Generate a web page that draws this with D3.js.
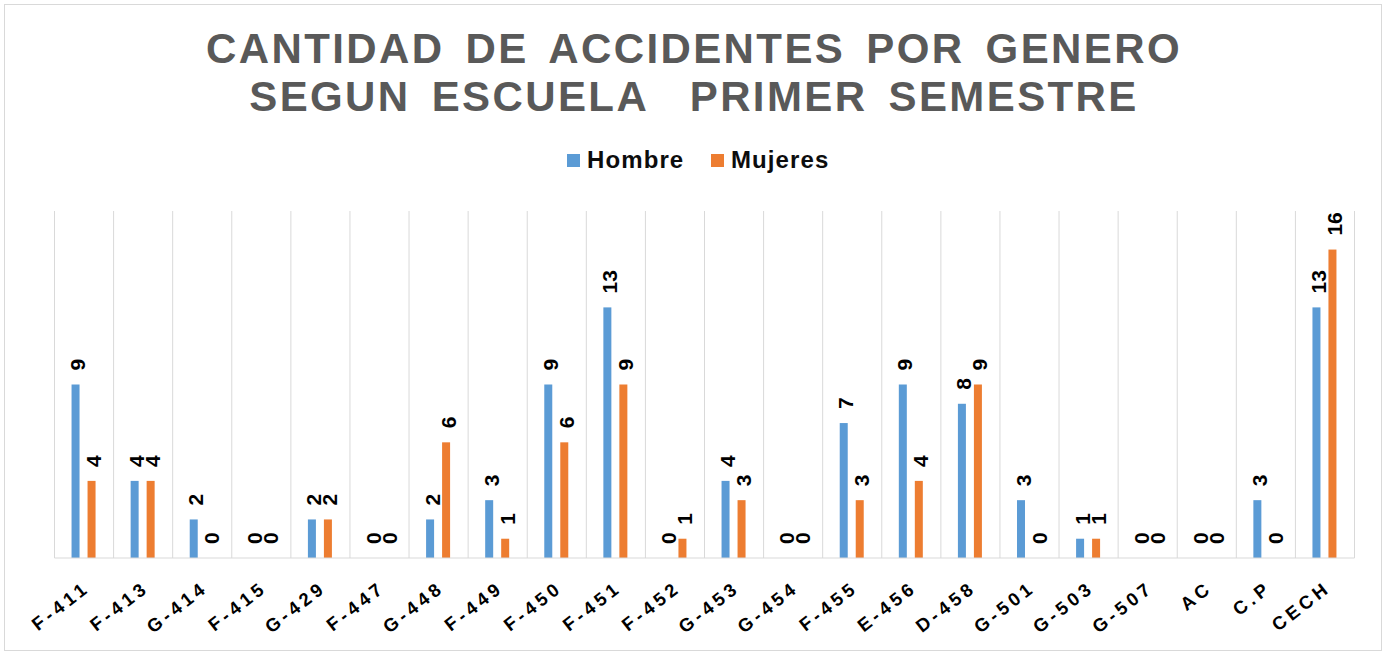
<!DOCTYPE html>
<html>
<head>
<meta charset="utf-8">
<script src="https://cdn.jsdelivr.net/npm/d3@7"></script>
<style>
  body { margin: 0; background: #fff; }
  text { font-family: "Liberation Sans", Arial, sans-serif; font-weight: bold; }
</style>
</head>
<body>
<div id="chart"></div>
<script>
// Data
var categories = ["F-411", "F-413", "G-414", "F-415", "G-429", "F-447", "G-448", "F-449", "F-450", "F-451", "F-452",
                  "G-453", "G-454", "F-455", "E-456", "D-458", "G-501", "G-503", "G-507", "AC", "C.P", "CECH"];
var hombre  = [9, 4, 2, 0, 2, 0, 2, 3, 9, 13, 0, 4, 0, 7, 9, 8, 3, 1, 0, 0, 3, 13];
var mujeres = [4, 4, 0, 0, 2, 0, 6, 1, 6, 9, 1, 3, 0, 3, 4, 9, 0, 1, 0, 0, 0, 16];
var seriesNames = ["Hombre", "Mujeres"];
var seriesColors = ["#5b9bd5", "#ed7d31"];
var titleLines = ["CANTIDAD DE ACCIDENTES POR GENERO", "SEGUN ESCUELA  PRIMER SEMESTRE"];

var svgWidth = 1386;
var svgHeight = 654;

var svg = d3.select("#chart")
  .append("svg")
  .attr("width", svgWidth)
  .attr("height", svgHeight);

// outer frame
svg.append("rect")
  .attr("x", 4.5).attr("y", 4.5)
  .attr("width", 1377).attr("height", 646)
  .attr("fill", "#fff")
  .attr("stroke", "#d9d9d9");

// title
svg.selectAll(".title")
  .data(titleLines)
  .enter()
  .append("text")
  .attr("class", "title")
  .attr("x", 694)
  .attr("y", (d, i) => i == 0 ? 63 : 110.5)
  .attr("text-anchor", "middle")
  .style("font-size", "42px")
  .style("letter-spacing", "2.4px")
  .style("word-spacing", "7px")
  .style("white-space", "pre")
  .attr("fill", "#595959")
  .text(d => d);

// legend
var legendX = [567, 711];
var legend = svg.selectAll(".legend")
  .data(seriesNames)
  .enter()
  .append("g")
  .attr("class", "legend")
  .attr("transform", (d, i) => `translate(${legendX[i]}, 154)`);

legend.append("rect")
  .attr("width", 13).attr("height", 13)
  .attr("fill", (d, i) => seriesColors[i]);

legend.append("text")
  .attr("x", 20)
  .attr("y", 14)
  .style("font-size", "24px")
  .style("letter-spacing", "1.1px")
  .attr("fill", "#0d0d0d")
  .text(d => d);

// scales
var x0 = d3.scaleBand().domain(categories).range([54.5, 1354.5]).padding(0);
var bw = x0.bandwidth();
var x1 = d3.scaleBand().domain(seriesNames).range([bw / 2 - 12.5, bw / 2 + 11.5]).paddingInner(0.5);
var y = d3.scaleLinear().domain([0, 18]).range([558, 211]);

var rows = categories.map((c, i) => ({ cat: c, values: [hombre[i], mujeres[i]] }));

// vertical gridlines between categories
var gridX = categories.map(c => x0(c)).concat([x0.range()[1]]);
svg.selectAll(".grid")
  .data(gridX)
  .enter()
  .append("line")
  .attr("x1", d => d).attr("x2", d => d)
  .attr("y1", y(18)).attr("y2", y(0))
  .attr("stroke", "#d9d9d9");

// bars
var groups = svg.selectAll(".cat")
  .data(rows)
  .enter()
  .append("g")
  .attr("transform", d => `translate(${x0(d.cat)}, 0)`);

groups.selectAll("rect")
  .data(d => d.values.map((v, j) => ({ name: seriesNames[j], value: v, j: j })))
  .enter()
  .append("rect")
  .attr("x", d => x1(d.name))
  .attr("width", x1.bandwidth())
  .attr("y", d => y(d.value))
  .attr("height", d => y(0) - y(d.value))
  .attr("fill", d => seriesColors[d.j]);

// value labels, rotated
groups.selectAll(".val")
  .data(d => d.values.map((v, j) => ({ name: seriesNames[j], value: v })))
  .enter()
  .append("text")
  .attr("class", "val")
  .attr("transform", d => `translate(${x1(d.name) + x1.bandwidth() / 2 + 2}, ${y(d.value) - 14}) rotate(-90)`)
  .attr("dy", "0.36em")
  .style("font-size", "21px")
  .attr("fill", "#000")
  .text(d => d.value);

// x axis line
svg.append("line")
  .attr("x1", x0.range()[0]).attr("x2", x0.range()[1])
  .attr("y1", y(0)).attr("y2", y(0))
  .attr("stroke", "#d9d9d9");

// category labels
var xAxis = svg.append("g")
  .attr("transform", `translate(0, ${y(0)})`)
  .call(d3.axisBottom(x0).tickSize(0));

xAxis.select(".domain").remove();
xAxis.selectAll("text")
  .attr("x", null).attr("y", null).attr("dy", null)
  .attr("text-anchor", "end")
  .attr("transform", "translate(7, 32) rotate(-38)")
  .style("font-size", "18.5px")
  .style("font-family", "'Liberation Sans', Arial, sans-serif")
  .style("font-weight", "bold")
  .style("letter-spacing", "4px")
  .attr("fill", "#000");
</script>
</body>
</html>
